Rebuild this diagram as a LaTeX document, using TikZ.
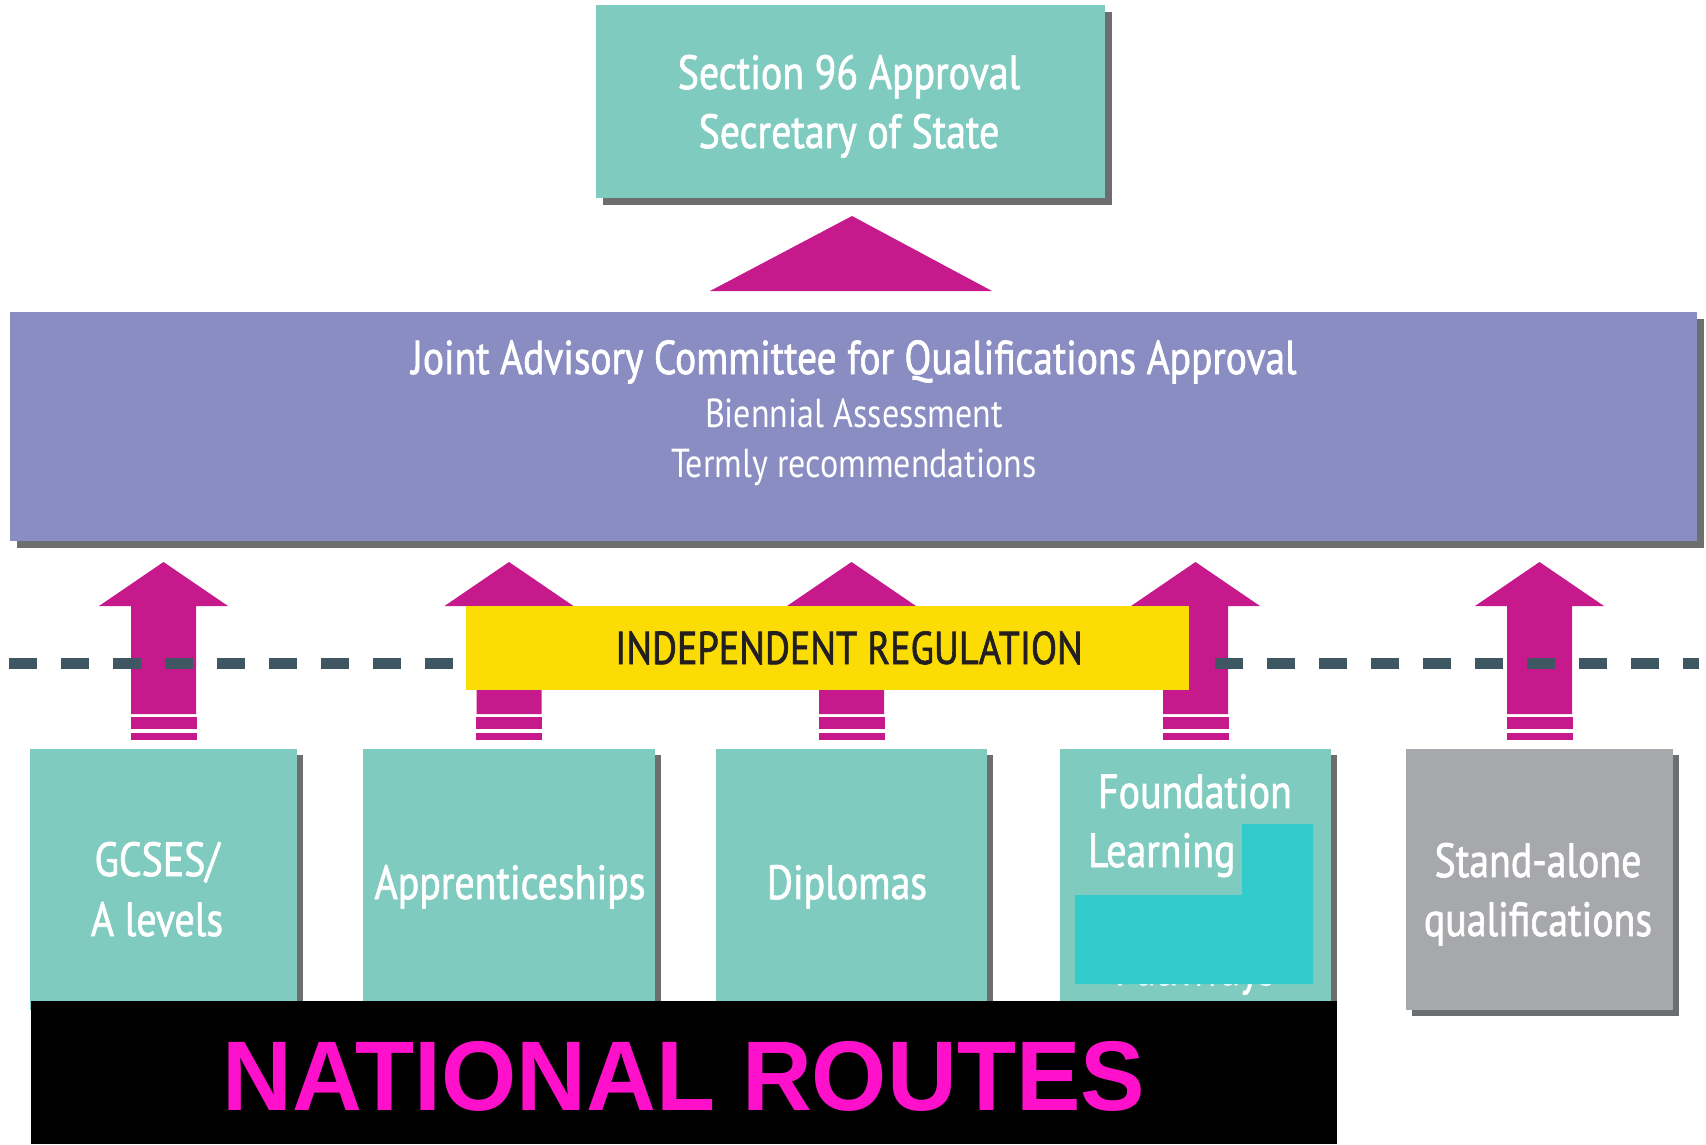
\documentclass[tikz,border=0pt]{standalone}
\usepackage{fontspec}
\setmainfont[FakeStretch=0.83,FakeBold=1.4]{PT Sans}
\newfontfamily\plainfont[FakeStretch=0.84]{PT Sans}
\newfontfamily\bannerfont[FakeStretch=0.977]{Liberation Sans Bold}
\usetikzlibrary{shadows}
\definecolor{teal}{HTML}{7FCBBF}
\definecolor{lilac}{HTML}{8A8DC2}
\definecolor{mag}{HTML}{C61A8C}
\definecolor{sun}{HTML}{FBDC04}
\definecolor{slate}{HTML}{3F5663}
\definecolor{stone}{HTML}{A7A8AB}
\definecolor{shade}{HTML}{6D6E70}
\definecolor{cover}{HTML}{33CCCC}
\definecolor{pinktext}{HTML}{FF11CC}
\definecolor{ink}{HTML}{231F20}
\tikzset{
  panel/.style={rectangle, inner sep=0pt, outer sep=0pt, anchor=north west,
    drop shadow={shadow xshift=#1, shadow yshift=-#1, fill=shade, opacity=1}},
  panel/.default=6pt,
  lbl/.style={anchor=base, inner sep=0pt, outer sep=0pt, text=white},
  big/.style={font=\fontsize{48}{58}\selectfont},
  small/.style={font=\plainfont\fontsize{40.5}{48}\selectfont},
  pics/blockup/.style={code={
    \fill[mag] (-32.5,714) -- (-32.5,606) -- (-64.5,606) -- (0,562)
      -- (64.5,606) -- (32.5,606) -- (32.5,714) -- cycle;
    \fill[mag] (-33,717) rectangle (33,729);
    \fill[mag] (-33,733) rectangle (33,740);
  }}
}
\begin{document}
\begin{tikzpicture}[x=1pt,y=-1pt]
  \fill[white] (0,0) rectangle (1706,1144);
  \useasboundingbox (0,0) rectangle (1706,1144);
  \coordinate (top0) at (0,0);

  % approval box and committee band
  \node[panel=7pt, fill=teal, minimum width=509, minimum height=193] (sos) at (596,5) {};
  \fill[mag] (710,291) -- (852,216) -- (992,291) -- cycle;
  \node[panel=7pt, fill=lilac, minimum width=1687, minimum height=229] (jacqa) at (10,312) {};

  % routes
  \node[panel, fill=teal, minimum width=267, minimum height=261] (gcse) at (30,749) {};
  \node[panel, fill=teal, minimum width=292, minimum height=261] (appr) at (363,749) {};
  \node[panel, fill=teal, minimum width=271, minimum height=261] (dipl) at (716,749) {};
  \node[panel, fill=teal, minimum width=271, minimum height=261] (found) at (1060,749) {};
  \node[panel, fill=stone, minimum width=267, minimum height=261] (stand) at (1406,749) {};

  % upward arrows
  \pic at (gcse.north |- top0) {blockup};
  \pic at (appr.north |- top0) {blockup};
  \pic at (dipl.north |- top0) {blockup};
  \pic at (found.north |- top0) {blockup};
  \pic at (stand.north |- top0) {blockup};

  % regulation line
  \draw[slate, line width=11pt, dash pattern=on 28pt off 24pt] (9,663.5) -- (454,663.5);
  \draw[slate, line width=11pt, dash pattern=on 28pt off 24pt] (1215,663.5) -- (1699,663.5);
  \node[rectangle, fill=sun, inner sep=0pt, anchor=north west, minimum width=723, minimum height=84] (reg) at (466,606) {};

  % texts
  \node[lbl, big] (t1) at (849,89) {Section 96 Approval};
  \node[lbl, big] (t2) at (849,148) {Secretary of State};
  \node[lbl, font=\fontsize{47.5}{57}\selectfont] (t3) at (854,374) {Joint Advisory Committee for Qualifications Approval};
  \node[lbl, small] (t4) at (854,427) {Biennial Assessment};
  \node[lbl, small] (t5) at (854,477) {Termly recommendations};
  \node[lbl, font=\fontsize{46}{55}\selectfont, text=ink] (t6) at (849,664) {INDEPENDENT REGULATION};

  \node[lbl, big] (g1) at (157,876) {GCSES/};
  \node[lbl, big] (g2) at (157,936) {A levels};
  \node[lbl, big] (a1) at (510,899) {Apprenticeships};
  \node[lbl, big] (d1) at (847,899) {Diplomas};
  \node[lbl, big] (f1) at (1195,808) {Foundation};
  \node[lbl, big, anchor=base west] (f2) at (1088,867) {Learning};
  \node[lbl, big] (f4) at (1195,985) {Pathways};
  \node[lbl, big] (s1) at (1538,877) {Stand-alone};
  \node[lbl, big] (s2) at (1538,936) {qualifications};

  % cover over part of the foundation label
  \fill[cover] (1242,824) -- (1313,824) -- (1313,984) -- (1075,984) -- (1075,895) -- (1242,895) -- cycle;

  % banner
  \node[rectangle, fill=black, inner sep=0pt, anchor=north west, minimum width=1306, minimum height=143] (banner) at (31,1001) {};
  \node[anchor=base, inner sep=0pt, text=pinktext, font=\bannerfont\fontsize{99}{110}\selectfont] (nr) at (684,1110) {NATIONAL ROUTES};
\end{tikzpicture}
\end{document}
